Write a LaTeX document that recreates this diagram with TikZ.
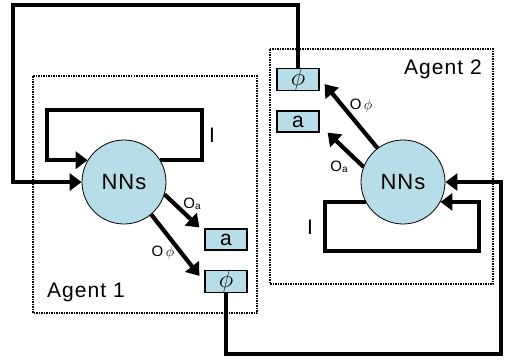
\documentclass[tikz,border=0pt]{standalone}
\usepackage{fontspec}
\setmainfont[LetterSpace=5]{Liberation Sans}
\usetikzlibrary{arrows.meta}
\definecolor{nnblue}{RGB}{183,221,232}
\begin{document}
\begin{tikzpicture}[x=1pt,y=-1pt,
  agentbox/.style={draw, line width=2.2pt, dash pattern=on 1.5pt off 1pt},
  nn/.style={circle, draw, line width=0.8pt, fill=nnblue, minimum size=84pt, inner sep=0pt, font=\fontsize{22}{22}\selectfont},
  outbox/.style={draw, line width=1.2pt, fill=nnblue, minimum width=42pt, minimum height=21pt, inner sep=0pt, font=\fontsize{21}{21}\selectfont},
  fb/.style={line width=4.2pt, -{Triangle[length=12pt,width=17pt]}},
  lbl/.style={font=\fontsize{21}{21}\selectfont, inner sep=0pt},
  olbl/.style={font=\fontsize{15}{15}\selectfont, inner sep=0pt}]
\useasboundingbox (0,0) rectangle (505,360);
% agent boxes
\draw[agentbox] (33,76) rectangle (257,313);
\draw[agentbox] (270,49) rectangle (493,284);
% nodes
\node[nn] (c1) at (124,182) {NNs};
\node[nn] (c2) at (403,182) {NNs};
\node[outbox] (a1) at (226,239.5) {a};
\node[outbox] (p1) at (226,281.5) {\fontsize{25}{25}\selectfont$\phi$};
\node[outbox] (p2) at (298,79.5) {\fontsize{25}{25}\selectfont$\phi$};
\node[outbox] (a2) at (298,121.5) {a};
\node[lbl, anchor=base west] (ag1) at (47,297) {Agent 1};
\node[lbl, anchor=base west] (ag2) at (404,74) {Agent 2};
\node[lbl] (i1) at (212,135) {I};
\node[lbl] (i2) at (310,227) {I};
\node[olbl] (la1) at (192,204) {O\raisebox{-1.5pt}{\fontsize{10}{10}\selectfont a}};
\node[olbl] (lp1) at (163,253) {O\,$\phi$};
\node[olbl] (lp2) at (361,106) {O\,$\phi$};
\node[olbl] (la2) at (339,167) {O\raisebox{-1.5pt}{\fontsize{10}{10}\selectfont a}};
% coordinates
\coordinate (tl) at (13,5);
\coordinate (br) at (501,354);
\coordinate (l1a) at (202,110);
\coordinate (l1b) at (47,110);
\coordinate (l2a) at (325,251);
\coordinate (l2b) at (479,251);
% feedback between agents
\draw[fb] (p2.north) |- (tl) |- (c1.west);
\draw[fb] (p1.south) |- (br) |- (c2.east);
% self loops
\draw[fb] (c1.31) -| (l1a) -- (l1b) |- (c1.149);
\draw[fb] (c2.208) -| (l2a) -- (l2b) |- (c2.-28);
% outputs
\draw[fb] (c1.-17) -- ([shift={(-5,-1)}]a1.north west);
\draw[fb] (c1.-50) -- ([shift={(-5,6)}]p1.north west);
\draw[fb] (c2.159) -- ([shift={(8,0)}]a2.south east);
\draw[fb] (c2.127) -- ([shift={(5,-7)}]p2.south east);
\end{tikzpicture}
\end{document}
